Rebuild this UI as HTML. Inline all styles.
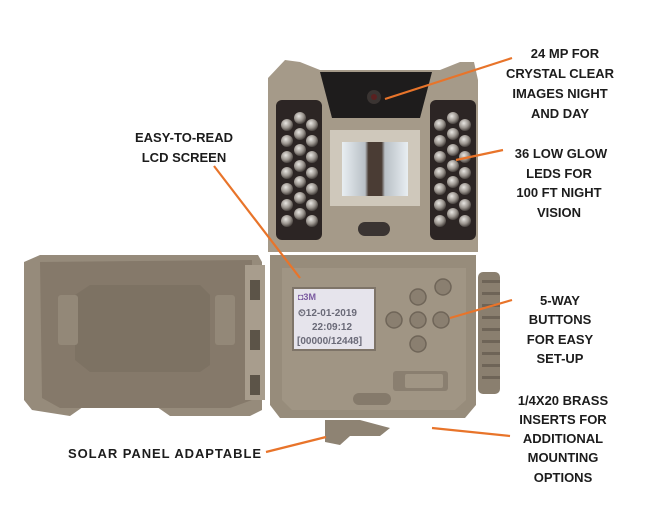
<!DOCTYPE html>
<html><head><meta charset="utf-8"><style>
html,body{margin:0;padding:0;background:#fff;}
svg{display:block}
text{font-family:"Liberation Sans",sans-serif;font-weight:bold;font-size:13px;fill:#1c1c1c;}
</style></head><body>
<svg width="663" height="528" viewBox="0 0 663 528" xmlns="http://www.w3.org/2000/svg">
<defs>
<radialGradient id="led" cx="40%" cy="35%" r="65%"><stop offset="0" stop-color="#e8e6e2"/><stop offset="0.6" stop-color="#9a948e"/><stop offset="1" stop-color="#4a4440"/></radialGradient>
<linearGradient id="pir" x1="0" x2="1"><stop offset="0" stop-color="#e8eef2"/><stop offset="0.35" stop-color="#b9c0c6"/><stop offset="0.4" stop-color="#4a3c34"/><stop offset="0.6" stop-color="#4a3c34"/><stop offset="0.65" stop-color="#b9c0c6"/><stop offset="1" stop-color="#e8eef2"/></linearGradient>
</defs>
<!-- left door -->
<path d="M24 262 L40 255 L258 255 L262 262 L262 410 L250 416 L170 416 L150 402 L90 402 L70 416 L32 410 L24 400 Z" fill="#968b7b"/>
<path d="M40 262 L252 260 L252 400 L230 408 L60 408 L42 398 Z" fill="#85796a"/>
<path d="M90 285 L200 285 L210 295 L210 365 L200 372 L90 372 L75 360 L75 295 Z" fill="#7d7263"/>
<rect x="58" y="295" width="20" height="50" rx="3" fill="#938878"/>
<rect x="215" y="295" width="20" height="50" rx="3" fill="#938878"/>
<rect x="245" y="265" width="20" height="135" fill="#a89d8d"/>
<rect x="250" y="280" width="10" height="20" fill="#5c5448"/>
<rect x="250" y="330" width="10" height="20" fill="#5c5448"/>
<rect x="250" y="375" width="10" height="20" fill="#5c5448"/>
<!-- right knob -->
<rect x="478" y="272" width="22" height="122" rx="5" fill="#8a7f6f"/>
<g fill="#6e6457"><rect x="482" y="280" width="18" height="3"/><rect x="482" y="292" width="18" height="3"/><rect x="482" y="304" width="18" height="3"/><rect x="482" y="316" width="18" height="3"/><rect x="482" y="328" width="18" height="3"/><rect x="482" y="340" width="18" height="3"/><rect x="482" y="352" width="18" height="3"/><rect x="482" y="364" width="18" height="3"/><rect x="482" y="376" width="18" height="3"/></g>
<!-- body lower -->
<path d="M270 255 L476 255 L476 405 L465 418 L280 418 L270 405 Z" fill="#978c7b"/>
<path d="M282 268 L466 268 L466 400 L455 410 L292 410 L282 400 Z" fill="#a09584"/>
<!-- body upper -->
<path d="M268 78 L285 60 L300 62 L320 70 L440 70 L460 62 L474 62 L478 80 L478 252 L268 252 Z" fill="#a59a89"/>
<path d="M320 72 L432 72 L420 118 L332 118 Z" fill="#1e1c1c"/>
<circle cx="374" cy="97" r="7" fill="#3a3432"/><circle cx="374" cy="97" r="3" fill="#5a2020"/>
<rect x="276" y="100" width="46" height="140" rx="6" fill="#2c2524"/>
<rect x="430" y="100" width="46" height="140" rx="6" fill="#2c2524"/>
<g fill="url(#led)">
<circle cx="287" cy="125" r="6"/><circle cx="300" cy="118" r="6"/><circle cx="312" cy="125" r="6"/>
<circle cx="287" cy="141" r="6"/><circle cx="300" cy="134" r="6"/><circle cx="312" cy="141" r="6"/>
<circle cx="287" cy="157" r="6"/><circle cx="300" cy="150" r="6"/><circle cx="312" cy="157" r="6"/>
<circle cx="287" cy="173" r="6"/><circle cx="300" cy="166" r="6"/><circle cx="312" cy="173" r="6"/>
<circle cx="287" cy="189" r="6"/><circle cx="300" cy="182" r="6"/><circle cx="312" cy="189" r="6"/>
<circle cx="287" cy="205" r="6"/><circle cx="300" cy="198" r="6"/><circle cx="312" cy="205" r="6"/>
<circle cx="287" cy="221" r="6"/><circle cx="300" cy="214" r="6"/><circle cx="312" cy="221" r="6"/>
<circle cx="440" cy="125" r="6"/><circle cx="453" cy="118" r="6"/><circle cx="465" cy="125" r="6"/>
<circle cx="440" cy="141" r="6"/><circle cx="453" cy="134" r="6"/><circle cx="465" cy="141" r="6"/>
<circle cx="440" cy="157" r="6"/><circle cx="453" cy="150" r="6"/><circle cx="465" cy="157" r="6"/>
<circle cx="440" cy="173" r="6"/><circle cx="453" cy="166" r="6"/><circle cx="465" cy="173" r="6"/>
<circle cx="440" cy="189" r="6"/><circle cx="453" cy="182" r="6"/><circle cx="465" cy="189" r="6"/>
<circle cx="440" cy="205" r="6"/><circle cx="453" cy="198" r="6"/><circle cx="465" cy="205" r="6"/>
<circle cx="440" cy="221" r="6"/><circle cx="453" cy="214" r="6"/><circle cx="465" cy="221" r="6"/>
</g>
<rect x="330" y="130" width="90" height="76" fill="#cfc8bb"/>
<rect x="342" y="142" width="66" height="54" fill="url(#pir)"/>
<rect x="358" y="222" width="32" height="14" rx="7" fill="#3a3432"/>
<!-- LCD -->
<rect x="293" y="288" width="82" height="62" fill="#e6e4ec" stroke="#7e7468" stroke-width="2"/>
<g style="font-family:'Liberation Mono',monospace;font-weight:normal;" font-size="9">
<text x="298" y="300" style="fill:#7a5aa0;font-size:9px">◘3M</text>
<text x="298" y="316" style="fill:#6a6a78;font-size:10px">⏲12-01-2019</text>
<text x="312" y="330" style="fill:#6a6a78;font-size:10px">22:09:12</text>
<text x="297" y="344" style="fill:#6a6a78;font-size:10px">[00000/12448]</text>
</g>
<!-- buttons -->
<g fill="#8a7f70" stroke="#6f6558" stroke-width="1.5">
<circle cx="443" cy="287" r="8"/><circle cx="418" cy="297" r="8"/><circle cx="394" cy="320" r="8"/>
<circle cx="418" cy="320" r="8"/><circle cx="441" cy="320" r="8"/><circle cx="418" cy="344" r="8"/>
</g>
<rect x="393" y="371" width="55" height="20" rx="3" fill="#8a7f70"/>
<rect x="405" y="374" width="38" height="14" rx="2" fill="#a09584"/>
<rect x="353" y="393" width="38" height="12" rx="6" fill="#857a6b"/>
<path d="M325 420 L360 420 L390 428 L380 436 L350 436 L340 445 L325 442 Z" fill="#8e8373"/>
<!-- orange lines -->
<g stroke="#e8742a" stroke-width="2.2" fill="none">
<line x1="385" y1="99" x2="512" y2="58"/>
<line x1="456" y1="160" x2="503" y2="150"/>
<line x1="450" y1="318" x2="512" y2="300"/>
<line x1="432" y1="428" x2="510" y2="436"/>
<line x1="266" y1="452" x2="326" y2="437"/>
<line x1="214" y1="166" x2="300" y2="278"/>
</g>
<!-- labels -->
<g text-anchor="middle">
<text x="565" y="58">24 MP FOR</text>
<text x="560" y="78">CRYSTAL CLEAR</text>
<text x="560" y="98">IMAGES NIGHT</text>
<text x="560" y="118">AND DAY</text>
<text x="561" y="158">36 LOW GLOW</text>
<text x="559" y="178">LEDS FOR</text>
<text x="559" y="197">100 FT NIGHT</text>
<text x="559" y="217">VISION</text>
<text x="560" y="305">5-WAY</text>
<text x="560" y="324">BUTTONS</text>
<text x="560" y="344">FOR EASY</text>
<text x="560" y="363">SET-UP</text>
<text x="563" y="405">1/4X20 BRASS</text>
<text x="563" y="424">INSERTS FOR</text>
<text x="563" y="443">ADDITIONAL</text>
<text x="563" y="462">MOUNTING</text>
<text x="563" y="482">OPTIONS</text>
<text x="184" y="142">EASY-TO-READ</text>
<text x="184" y="162">LCD SCREEN</text>
</g>
<text x="68" y="458" textLength="193">SOLAR PANEL ADAPTABLE</text>
</svg>
</body></html>
